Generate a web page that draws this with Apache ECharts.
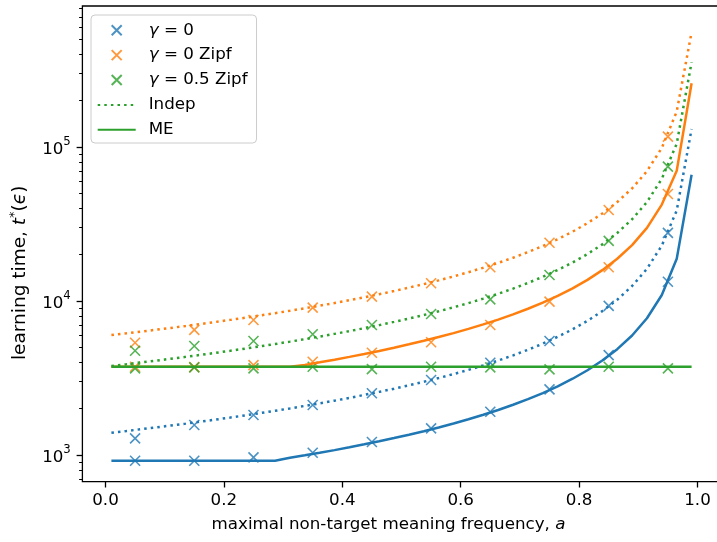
<!DOCTYPE html>
<html><head><meta charset="utf-8">
<script src="https://cdn.jsdelivr.net/npm/echarts@6/dist/echarts.min.js"></script>
<style>html,body{margin:0;padding:0;background:#fff}#c{width:717px;height:542px}</style>
</head><body><div id="c"></div>
<script>
// ---- data ----
const aLine = [0.0100,0.0351,0.0603,0.0854,0.1105,0.1356,0.1608,0.1859,0.2110,0.2362,
  0.2613,0.2864,0.3115,0.3367,0.3618,0.3869,0.4121,0.4372,0.4623,0.4874,
  0.5126,0.5377,0.5628,0.5879,0.6131,0.6382,0.6633,0.6885,0.7136,0.7387,
  0.7638,0.7890,0.8141,0.8392,0.8644,0.8895,0.9146,0.9397,0.9649,0.9900];
const aMarks = [0.05,0.15,0.25,0.35,0.45,0.55,0.65,0.75,0.85,0.95];

// gamma = 0
const blueIndepLine = [1396,1432,1471,1511,1554,1599,1647,1698,1752,1809,
  1871,1937,2007,2084,2165,2254,2351,2456,2570,2696,
  2835,2989,3161,3354,3572,3820,4105,4437,4825,5289,
  5851,6550,7434,8595,10192,12507,16183,22900,38700,131000];
const blueMELine = [918,918,918,918,918,918,918,918,918,918,
  918,918,959,995,1034,1076,1123,1173,1227,1288,
  1354,1428,1510,1602,1706,1824,1960,2119,2304,2526,
  2794,3128,3550,4104,4867,5973,7728,10945,18800,66000];
const blueIndepMarks = [1283,1567,1819,2113,2516,3070,3970,5495,9290,27700];
const blueMEMarks = [918,918,966,1035,1214,1490,1910,2670,4455,13340];

// gamma = 0 Zipf
const orangeIndepLine = [6010,6166,6332,6506,6689,6883,7090,7309,7541,7790,
  8055,8338,8642,8970,9323,9705,10121,10572,11066,11607,
  12208,12870,13609,14438,15379,16446,17672,19101,20775,22771,
  25190,28199,32006,37002,43879,53846,69672,98600,170000,556000];
const orangeMELine = [3740,3740,3740,3740,3740,3740,3740,3740,3740,3740,
  3740,3740,3740,3844,3996,4159,4337,4531,4742,4975,
  5232,5516,5833,6188,6591,7048,7574,8186,8904,9759,
  10796,12085,13717,15858,18805,23077,29859,42289,70100,259000];
const orangeIndepMarks = [5360,6490,7530,9060,10670,13030,16560,23900,38960,116700];
const orangeMEMarks = [3740,3720,3837,4035,4614,5400,6990,9910,16560,49500];

// gamma = 0.5 Zipf
const greenIndepLine = [3788,3886,3991,4100,4216,4338,4469,4606,4753,4910,
  5076,5255,5447,5654,5876,6116,6379,6663,6974,7316,
  7694,8112,8577,9100,9692,10365,11137,12039,13094,14351,
  15876,17773,20172,23321,27655,33937,43911,62100,105000,355000];
const greenMELine = [3740,3740,3740,3740,3740,3740,3740,3740,3740,3740,
  3740,3740,3740,3740,3740,3740,3740,3740,3740,3740,
  3740,3740,3740,3740,3740,3740,3740,3740,3740,3740,
  3740,3740,3740,3740,3740,3740,3740,3740,3740,3740];
const greenIndepMarks = [4753,5100,5500,6080,6990,8240,10250,14750,24550,74500];
const greenMEMarks = [3654,3706,3654,3744,3614,3744,3706,3600,3744,3654];

const xTicks = [0,0.2,0.4,0.6,0.8,1.0];
const yMajor = [1000,10000,100000];
const yMinor = [700,800,900,2000,3000,4000,5000,6000,7000,8000,9000,
  20000,30000,40000,50000,60000,70000,80000,90000,
  200000,300000,400000,500000,600000,700000,800000];

// ---- chart ----
const C = {blue:'#1f77b4', orange:'#ff7f0e', green:'#2ca02c'};
const FONT = 'DejaVu Sans';
const FS = 16.7;
const YFS = 18.5;
const X_PATH = 'path://M0,0L10,10M0,10L10,0';
const pairs = (xs, ys) => xs.map((x, i) => [x, ys[i]]);

function marks(name, color, a, b) {
  return {
    name, type: 'scatter', symbol: X_PATH, symbolSize: 10, symbolKeepAspect: true,
    data: pairs(aMarks, a).concat(pairs(aMarks, b)),
    itemStyle: {color: 'rgba(0,0,0,0)', borderColor: color, borderWidth: 1.6},
    emphasis: {disabled: true}, animation: false
  };
}
function line(name, color, ys, dotted) {
  return {
    name, type: 'line', symbol: 'none', showSymbol: false,
    data: pairs(aLine, ys),
    lineStyle: {color, width: 2.5, type: dotted ? [2.5, 4.1] : 'solid', cap: 'butt'},
    itemStyle: {color},
    emphasis: {disabled: true}, animation: false
  };
}

const minY = 671, maxY = 823000;
const chart = echarts.init(document.getElementById('c'), null, {renderer: 'canvas'});
const legendMap = {
  'γ = 0': '{g|}{i|γ}{n| = 0}',
  'γ = 0 Zipf': '{g|}{i|γ}{n| = 0 Zipf}',
  'γ = 0.5 Zipf': '{g|}{i|γ}{n| = 0.5 Zipf}',
  'Indep': '{g|}{n|Indep}',
  'ME': '{g|}{n|ME}'
};
const noSym = {color: 'rgba(0,0,0,0)', borderColor: 'rgba(0,0,0,0)', borderWidth: 0};
chart.setOption({
  animation: false,
  backgroundColor: '#ffffff',
  textStyle: {fontFamily: FONT},
  grid: {left: 82.4, top: 6, right: -3.6, bottom: 60.3, show: true,
    borderColor: '#000', borderWidth: 1.3, backgroundColor: 'transparent',
    containLabel: false, outerBoundsMode: 'none'},
  legend: {
    orient: 'vertical', left: 91, top: 15,
    padding: [6.7, 9, 4.7, 5.7],
    itemWidth: 38, itemHeight: 10, itemGap: 7.9,
    backgroundColor: 'rgba(255,255,255,0.8)', borderColor: '#cccccc', borderWidth: 1, borderRadius: 4,
    data: ['γ = 0', 'γ = 0 Zipf', 'γ = 0.5 Zipf',
      {name: 'Indep', itemStyle: noSym}, {name: 'ME', itemStyle: noSym}],
    selectedMode: false,
    formatter: n => legendMap[n] || n,
    textStyle: {
      fontFamily: FONT, fontSize: FS, color: '#000',
      rich: {
        g: {width: 8, lineHeight: 20},
        i: {fontFamily: FONT, fontSize: FS, fontStyle: 'italic', color: '#000', lineHeight: 20},
        n: {fontFamily: FONT, fontSize: FS, color: '#000', lineHeight: 20}
      }
    }
  },
  xAxis: {
    type: 'value', min: -0.039, max: 1.039,
    name: '{n|maximal non-target meaning frequency, }{i|a}',
    nameLocation: 'middle', nameGap: 34,
    nameTextStyle: {padding: [0, 26, 0, 0], rich: {
      n: {fontFamily: FONT, fontSize: FS, color: '#000'},
      i: {fontFamily: FONT, fontSize: FS, fontStyle: 'italic', color: '#000'}
    }},
    axisLine: {show: false, onZero: false},
    splitLine: {show: false},
    axisTick: {show: true, inside: false, length: 5.8, customValues: xTicks,
      lineStyle: {color: '#000', width: 1.3}},
    axisLabel: {show: true, customValues: xTicks, margin: 10,
      fontFamily: FONT, fontSize: FS, color: '#000',
      formatter: v => v.toFixed(1)}
  },
  yAxis: [{
    type: 'log', logBase: 10, min: minY, max: maxY, position: 'left',
    name: '{n|learning time, }{i|t}{s|*}{n|(}{i|ϵ}{n|)}',
    nameLocation: 'middle', nameGap: 50,
    nameTextStyle: {padding: [0, 58, 0, 0], rich: {
      n: {fontFamily: FONT, fontSize: YFS, color: '#000', lineHeight: 24},
      i: {fontFamily: FONT, fontSize: YFS, fontStyle: 'italic', color: '#000', lineHeight: 24},
      s: {fontFamily: FONT, fontSize: 13, color: '#000', verticalAlign: 'top', lineHeight: 16}
    }},
    axisLine: {show: false, onZero: false},
    splitLine: {show: false},
    minorTick: {show: false},
    axisTick: {show: true, inside: false, length: 5.8, customValues: yMajor,
      lineStyle: {color: '#000', width: 1.3}},
    axisLabel: {show: true, customValues: yMajor, margin: 11.6,
      formatter: v => '{b|10}{s|' + Math.round(Math.log10(v)) + '}',
      rich: {
        b: {fontFamily: FONT, fontSize: FS, color: '#000', lineHeight: 22, verticalAlign: 'bottom'},
        s: {fontFamily: FONT, fontSize: 11.7, color: '#000', lineHeight: 14, verticalAlign: 'top'}
      }}
  }, {
    type: 'log', logBase: 10, min: minY, max: maxY, position: 'left', offset: 0,
    axisLine: {show: false, onZero: false}, splitLine: {show: false}, axisLabel: {show: false},
    axisTick: {show: true, inside: false, length: 3.3, customValues: yMinor,
      lineStyle: {color: '#000', width: 1}}
  }],
  series: [
    marks('γ = 0', C.blue, blueIndepMarks, blueMEMarks),
    line('Indep γ=0', C.blue, blueIndepLine, true),
    line('ME γ=0', C.blue, blueMELine, false),
    marks('γ = 0 Zipf', C.orange, orangeIndepMarks, orangeMEMarks),
    line('Indep γ=0 Zipf', C.orange, orangeIndepLine, true),
    line('ME γ=0 Zipf', C.orange, orangeMELine, false),
    marks('γ = 0.5 Zipf', C.green, greenIndepMarks, greenMEMarks),
    line('Indep', C.green, greenIndepLine, true),
    line('ME', C.green, greenMELine, false)
  ]
});
</script>
</body></html>
